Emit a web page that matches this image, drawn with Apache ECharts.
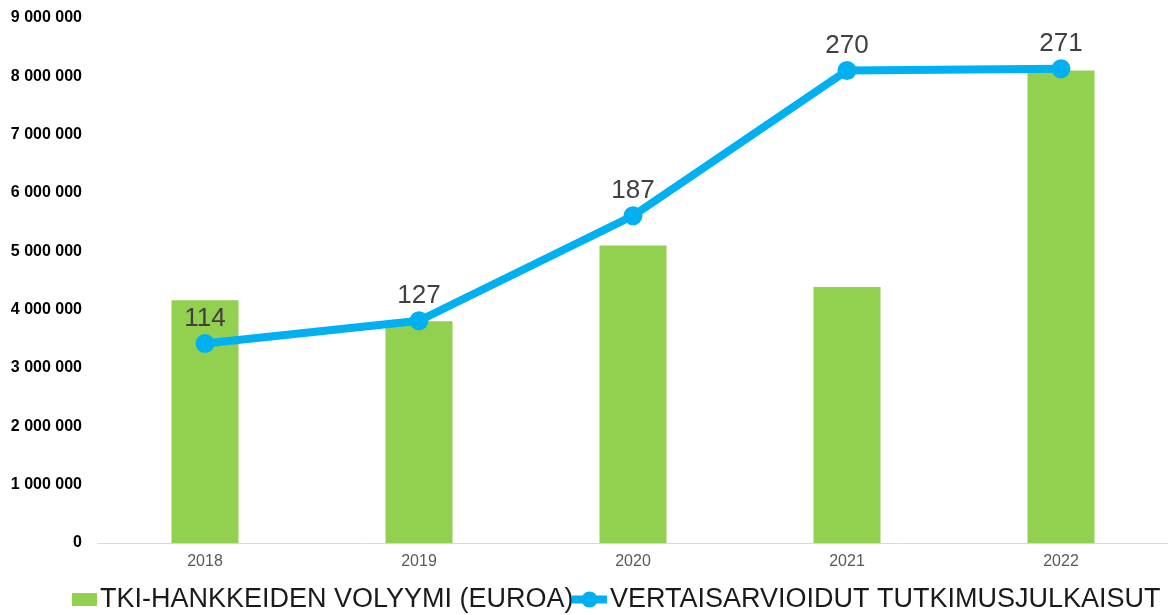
<!DOCTYPE html>
<html>
<head>
<meta charset="utf-8">
<script src="https://cdn.jsdelivr.net/npm/echarts@6/dist/echarts.min.js"></script>
<style>
  html, body { margin: 0; padding: 0; background: #fff; }
  #chart { width: 1168px; height: 615px; }
</style>
</head>
<body>
<div id="chart"></div>
<script>
// data
const years = ["2018", "2019", "2020", "2021", "2022"];
const volume = [4160000, 3800000, 5100000, 4390000, 8100000];
const publications = [114, 127, 187, 270, 271];
const volumeName = "TKI-HANKKEIDEN VOLYYMI (EUROA)";
const pubName = "VERTAISARVIOIDUT TUTKIMUSJULKAISUT";

const fmt = (v) => String(v).replace(/\B(?=(\d{3})+(?!\d))/g, " ");

const legendText = { fontSize: 27, color: "#1a1a1a", padding: [0, 0, 0, -2] };

const chart = echarts.init(document.getElementById("chart"));
chart.setOption({
  backgroundColor: "#fff",
  animation: false,
  textStyle: { fontFamily: "Liberation Sans, Arial, sans-serif" },
  legend: [
    {
      top: 581,
      left: 67,
      itemWidth: 25,
      itemHeight: 13,
      textStyle: legendText,
      data: [{ name: volumeName, icon: "rect" }],
    },
    {
      top: 581,
      left: 563,
      itemWidth: 35,
      itemHeight: 20,
      textStyle: legendText,
      lineStyle: { width: 8 },
      data: [{ name: pubName }],
    },
  ],
  grid: {
    left: 98,
    right: 0,
    top: 18,
    bottom: 72,
  },
  xAxis: {
    type: "category",
    data: years,
    axisTick: { show: false },
    axisLine: { lineStyle: { color: "#d9d9d9", width: 1 } },
    axisLabel: { color: "#595959", fontSize: 16, margin: 11 },
  },
  yAxis: [
    {
      type: "value",
      min: 0,
      max: 9000000,
      interval: 1000000,
      splitLine: { show: false },
      axisLine: { show: false },
      axisTick: { show: false },
      axisLabel: {
        color: "#000",
        fontSize: 16,
        fontWeight: "bold",
        margin: 16,
        formatter: fmt,
      },
    },
    {
      type: "value",
      min: 0,
      max: 300,
      show: false,
      splitLine: { show: false },
    },
  ],
  series: [
    {
      name: volumeName,
      type: "bar",
      data: volume,
      barWidth: 67,
      itemStyle: { color: "#92d050" },
    },
    {
      name: pubName,
      type: "line",
      yAxisIndex: 1,
      data: publications,
      symbol: "circle",
      symbolSize: 19,
      lineStyle: { width: 8, color: "#00b0f0" },
      itemStyle: { color: "#00b0f0" },
      label: {
        show: true,
        position: "top",
        distance: 2,
        fontSize: 26,
        color: "#404040",
      },
    },
  ],
});
</script>
</body>
</html>
